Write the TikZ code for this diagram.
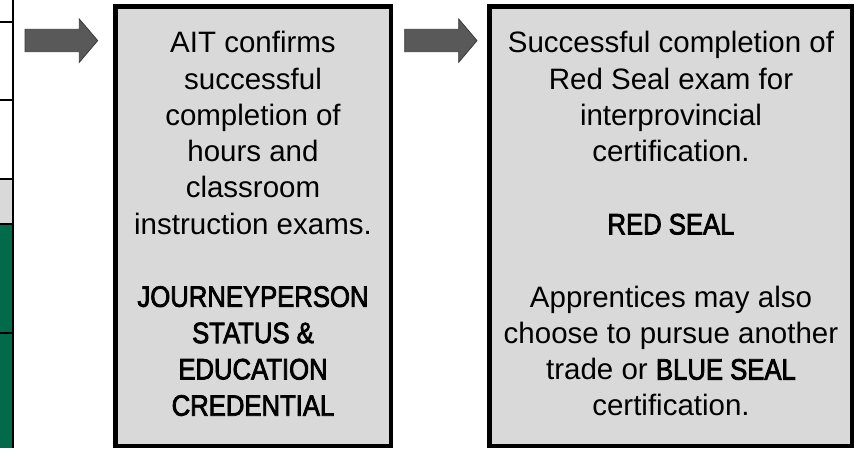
\documentclass[tikz,border=0pt]{standalone}
\usepackage{fontspec}
\setmainfont{Liberation Sans}[BoldFont={Liberation Sans}, BoldFeatures={FakeBold=2.6, FakeStretch=0.87}]
\definecolor{boxgray}{HTML}{D9D9D9}
\definecolor{arrowgray}{HTML}{595959}
\definecolor{arrowedge}{HTML}{3A3A3A}
\definecolor{tablegreen}{HTML}{006A4A}
\tikzset{
  stepbox/.style={draw=black, line width=4.5pt, fill=boxgray},
  blockarrow/.style={fill=arrowgray, draw=arrowedge, line width=0.8pt, line join=miter},
  boxtext/.style={align=center, inner sep=0pt, anchor=north,
    font=\fontsize{29.5}{36.3}\selectfont},
  tableline/.style={draw=black, line width=2pt}
}
\begin{document}
\begin{tikzpicture}[x=1pt, y=-1pt]
\useasboundingbox (0,0) rectangle (855,448);
\fill[white] (0,0) rectangle (855,448);
% partial table at left edge
\fill[boxgray] (0,179) rectangle (13,224);
\fill[tablegreen] (0,224) rectangle (13,448);
\draw[tableline] (0,22) -- (13,22);
\draw[tableline] (0,100) -- (13,100);
\draw[tableline] (0,179) -- (13,179);
\draw[tableline] (0,224) -- (13,224);
\draw[tableline] (0,333) -- (13,333);
\draw[tableline] (13,0) -- (13,448);
% block arrows
\draw[blockarrow] (25,29.3) -- (79.3,29.3) -- (79.3,19) -- (97.7,40.6) -- (79.3,62.3) -- (79.3,51.7) -- (25,51.7) -- cycle;
\draw[blockarrow] (404.7,29.3) -- (458.7,29.3) -- (458.7,19) -- (477,40.6) -- (458.7,62.3) -- (458.7,51.7) -- (404.7,51.7) -- cycle;
% boxes
\node[stepbox, minimum width=275.5pt, minimum height=439.5pt, inner sep=0pt] (b1) at (253,226) {};
\node[stepbox, minimum width=362.5pt, minimum height=439.5pt, inner sep=0pt] (b2) at (670.5,226) {};
% texts
\node[boxtext] (t1) at (253,27.1) {\strut AIT confirms\\ successful\\ completion of\\ hours and\\ classroom\\ instruction exams.\\[36.3pt]
\textbf{JOURNEYPERSON}\\ \textbf{STATUS \&}\\ \textbf{EDUCATION}\\ \textbf{CREDENTIAL}};
\node[boxtext] (t2) at (671,27.3) {\strut Successful completion of\\ Red Seal exam for\\ interprovincial\\ certification.\\[36.3pt]
\textbf{RED SEAL}\\[36.3pt]
Apprentices may also\\ choose to pursue another\\ trade or \textbf{BLUE SEAL}\\ certification.};
\end{tikzpicture}
\end{document}
